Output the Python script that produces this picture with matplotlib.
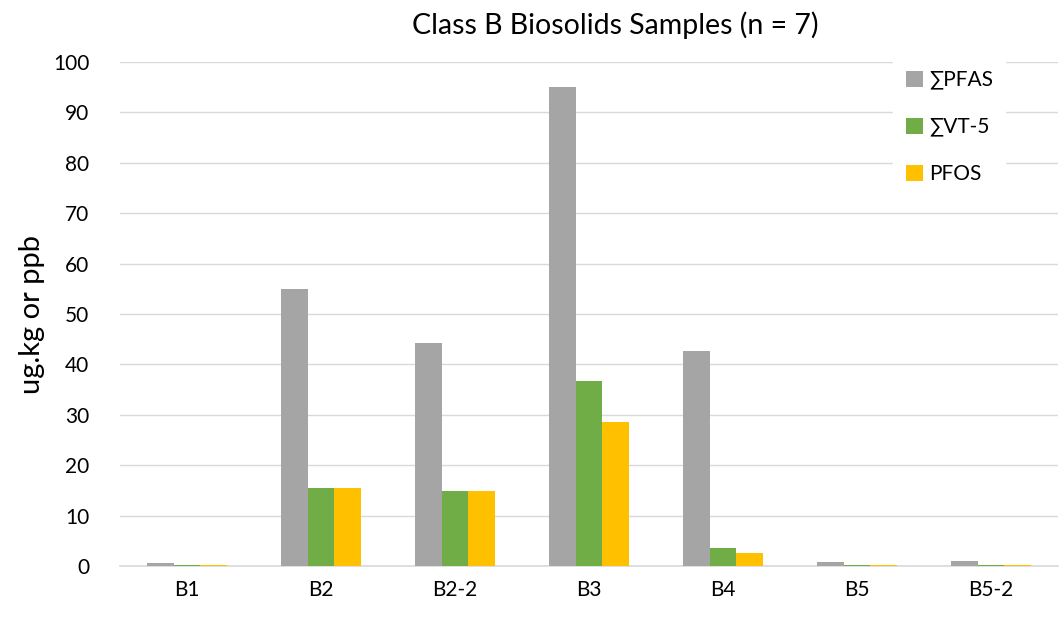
import matplotlib

matplotlib.use('Agg')
import matplotlib.pyplot as plt
import numpy as np

plt.rcParams['font.family'] = ['Lato', 'DejaVu Sans']

samples = ['B1', 'B2', 'B2-2', 'B3', 'B4', 'B5', 'B5-2']
pfas_sum = [0.5, 54.9, 44.3, 95.1, 42.7, 0.8, 0.9]
vt5_sum = [0.2, 15.5, 14.8, 36.7, 3.6, 0.2, 0.2]
pfos = [0.2, 15.5, 14.8, 28.5, 2.5, 0.2, 0.2]
series_names = ['\u2211PFAS', '\u2211VT-5', 'PFOS']
colors = ['#a5a5a5', '#70ad47', '#ffc000']

fig = plt.figure(figsize=(10.63, 6.17), dpi=100)
ax = fig.add_axes([120 / 1063, 51 / 617, 938 / 1063, 504 / 617])

x = np.arange(len(samples))
w = 0.2
for i, (vals, name, c) in enumerate(zip([pfas_sum, vt5_sum, pfos], series_names, colors)):
    ax.bar(x + (i - 1) * w, vals, w, color=c, label=name, zorder=3)

ax.set_xlim(-0.5, len(samples) - 0.5)
ax.set_ylim(0, 100)
ax.set_yticks(np.arange(0, 101, 10))
ax.set_xticks(x)
ax.set_xticklabels(samples)
ax.tick_params(axis='both', length=0, labelsize=15, colors='black')
ax.tick_params(axis='y', pad=22)
ax.tick_params(axis='x', pad=10)
ax.yaxis.grid(True, color='#d9d9d9', linewidth=1, zorder=0)
for s in ['top', 'right', 'left']:
    ax.spines[s].set_visible(False)
ax.spines['bottom'].set_color('#d9d9d9')
ax.spines['bottom'].set_linewidth(1.2)

ax.set_ylabel('ug.kg or ppb', fontsize=21, labelpad=6)
# title is centred on the whole chart, not on the plot area
fig.text(615 / 1063, 1 - 34 / 617, 'Class B Biosolids Samples (n = 7)',
         fontsize=20.5, ha='center', va='baseline')

leg = ax.legend(loc='upper right', bbox_to_anchor=(0.955, 1.03), fontsize=15,
                frameon=True, framealpha=1, edgecolor='white', fancybox=False,
                handlelength=0.8, handleheight=0.8, handletextpad=0.3,
                labelspacing=1.3, borderpad=0.6)
leg.set_zorder(5)

fig.savefig('out.png', dpi=100)
